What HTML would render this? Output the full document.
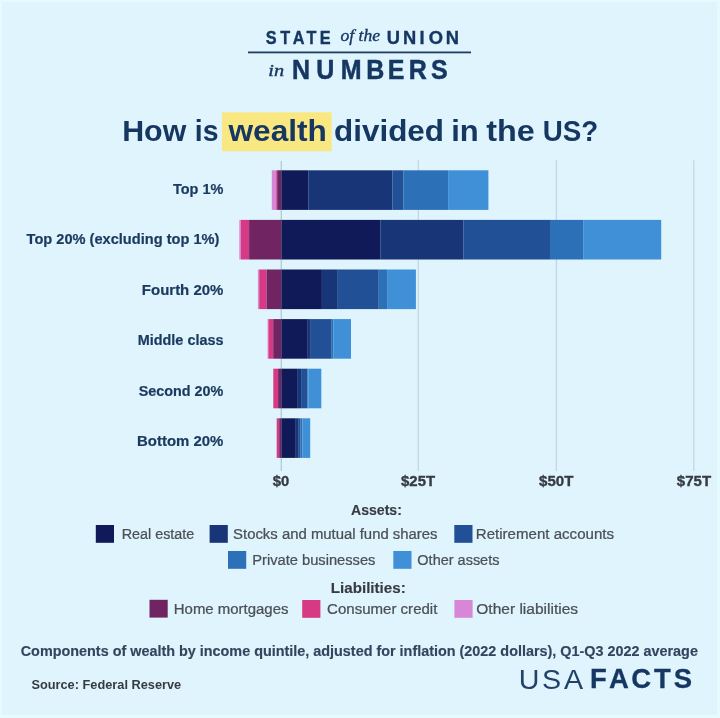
<!DOCTYPE html>
<html><head><meta charset="utf-8"><title>How is wealth divided in the US?</title>
<style>html,body{margin:0;padding:0;background:#dff4fd;} svg{display:block;filter:blur(0.3px)}</style></head>
<body>
<svg width="720" height="718" viewBox="0 0 720 718">
<rect x="0" y="0" width="720" height="718" fill="#dff4fd"/>
<rect x="0" y="0" width="720" height="2" fill="#e4fbff"/><rect x="0" y="0" width="2" height="718" fill="#e4fbff"/><rect x="717" y="0" width="3" height="718" fill="#e4fbff"/><rect x="0" y="715" width="720" height="3" fill="#e4fbff"/>
<rect x="248" y="51.5" width="223" height="1.8" fill="#1e3d63"/>
<rect x="222" y="112.3" width="109.7" height="38.9" fill="#f9e882"/>
<rect x="280.65" y="161" width="1.3" height="310" fill="#b3cad5"/><rect x="417.65" y="160.3" width="1.3" height="310.7" fill="#c0d8e3"/><rect x="555.75" y="160.3" width="1.3" height="310.7" fill="#c0d8e3"/><rect x="693.15" y="160.3" width="1.3" height="310.7" fill="#c0d8e3"/>
<rect x="271.80" y="170.30" width="4.40" height="39.60" fill="#d887d6"/><rect x="276.20" y="170.30" width="1.00" height="39.60" fill="#d63a84"/><rect x="277.20" y="170.30" width="4.20" height="39.60" fill="#702461"/><rect x="281.40" y="170.30" width="26.90" height="39.60" fill="#111a58"/><rect x="308.30" y="170.30" width="84.20" height="39.60" fill="#183578"/><rect x="392.50" y="170.30" width="10.80" height="39.60" fill="#215096"/><rect x="403.30" y="170.30" width="44.80" height="39.60" fill="#2c70b8"/><rect x="448.10" y="170.30" width="40.30" height="39.60" fill="#3f90d7"/><rect x="239.30" y="219.90" width="1.70" height="39.60" fill="#d887d6"/><rect x="241.00" y="219.90" width="8.10" height="39.60" fill="#d63a84"/><rect x="249.10" y="219.90" width="32.40" height="39.60" fill="#702461"/><rect x="281.50" y="219.90" width="98.80" height="39.60" fill="#111a58"/><rect x="380.30" y="219.90" width="83.30" height="39.60" fill="#183578"/><rect x="463.60" y="219.90" width="86.40" height="39.60" fill="#215096"/><rect x="550.00" y="219.90" width="33.60" height="39.60" fill="#2c70b8"/><rect x="583.60" y="219.90" width="77.60" height="39.60" fill="#3f90d7"/><rect x="257.90" y="269.50" width="1.30" height="39.60" fill="#d887d6"/><rect x="259.20" y="269.50" width="7.40" height="39.60" fill="#d63a84"/><rect x="266.60" y="269.50" width="14.80" height="39.60" fill="#702461"/><rect x="281.40" y="269.50" width="40.50" height="39.60" fill="#111a58"/><rect x="321.90" y="269.50" width="15.90" height="39.60" fill="#183578"/><rect x="337.80" y="269.50" width="40.95" height="39.60" fill="#215096"/><rect x="378.75" y="269.50" width="8.35" height="39.60" fill="#2c70b8"/><rect x="387.10" y="269.50" width="28.80" height="39.60" fill="#3f90d7"/><rect x="267.60" y="319.10" width="0.80" height="39.60" fill="#d887d6"/><rect x="268.40" y="319.10" width="4.80" height="39.60" fill="#d63a84"/><rect x="273.20" y="319.10" width="8.20" height="39.60" fill="#702461"/><rect x="281.40" y="319.10" width="25.70" height="39.60" fill="#111a58"/><rect x="307.10" y="319.10" width="3.70" height="39.60" fill="#183578"/><rect x="310.80" y="319.10" width="20.90" height="39.60" fill="#215096"/><rect x="331.70" y="319.10" width="1.60" height="39.60" fill="#2c70b8"/><rect x="333.30" y="319.10" width="17.70" height="39.60" fill="#3f90d7"/><rect x="273.30" y="368.70" width="4.80" height="39.60" fill="#d63a84"/><rect x="278.10" y="368.70" width="3.30" height="39.60" fill="#702461"/><rect x="281.40" y="368.70" width="16.40" height="39.60" fill="#111a58"/><rect x="297.80" y="368.70" width="3.30" height="39.60" fill="#183578"/><rect x="301.10" y="368.70" width="6.30" height="39.60" fill="#215096"/><rect x="307.40" y="368.70" width="0.90" height="39.60" fill="#2c70b8"/><rect x="308.30" y="368.70" width="13.00" height="39.60" fill="#3f90d7"/><rect x="276.70" y="418.30" width="2.50" height="39.60" fill="#d63a84"/><rect x="279.20" y="418.30" width="2.30" height="39.60" fill="#702461"/><rect x="281.50" y="418.30" width="14.30" height="39.60" fill="#111a58"/><rect x="295.80" y="418.30" width="2.95" height="39.60" fill="#183578"/><rect x="298.75" y="418.30" width="1.85" height="39.60" fill="#215096"/><rect x="300.60" y="418.30" width="1.90" height="39.60" fill="#2c70b8"/><rect x="302.50" y="418.30" width="7.70" height="39.60" fill="#3f90d7"/>
<rect x="95.80" y="525.00" width="18.2" height="17.8" fill="#111a58"/><rect x="209.60" y="525.00" width="18.2" height="17.8" fill="#183578"/><rect x="454.30" y="525.00" width="18.2" height="17.8" fill="#215096"/><rect x="228.00" y="551.00" width="18.2" height="17.8" fill="#2c70b8"/><rect x="393.30" y="551.00" width="18.2" height="17.8" fill="#3f90d7"/><rect x="149.50" y="599.80" width="18.2" height="17.8" fill="#702461"/><rect x="302.20" y="600.00" width="18.2" height="17.8" fill="#d63a84"/><rect x="454.40" y="600.00" width="18.2" height="17.8" fill="#d887d6"/>
<text font-family="Liberation Sans" font-size="19.00" font-weight="bold" stroke="#163761" stroke-width="0.35" fill="#163761" transform="translate(0 43.80) scale(0.8570 1)" x="310.00 326.89 341.47 357.52 373.21" y="0">STATE</text>
<text font-family="Liberation Serif" font-size="16.40" font-style="italic" stroke="#163761" stroke-width="0.35" fill="#163761" transform="translate(340.46 40.70) scale(1.0740 1)">of the</text>
<text font-family="Liberation Sans" font-size="19.00" font-weight="bold" stroke="#163761" stroke-width="0.35" fill="#163761" transform="translate(0 43.80) scale(0.9647 1)" x="400.94 417.83 434.92 444.52 461.94" y="0">UNION</text>
<text font-family="Liberation Serif" font-size="16.50" font-style="italic" stroke="#163761" stroke-width="0.35" fill="#163761" transform="translate(268.28 75.50) scale(1.2337 1)">in</text>
<text font-family="Liberation Sans" font-size="28.14" font-weight="bold" stroke="#163761" stroke-width="0.5" fill="#163761" transform="translate(0 78.90) scale(0.8881 1)" x="328.90 356.08 383.58 412.43 436.73 460.30 485.17" y="0">NUMBERS</text>
<text font-family="Liberation Sans" font-size="29.86" font-weight="bold" fill="#163761" transform="translate(122.23 140.90) scale(1.0156 1)">How</text>
<text font-family="Liberation Sans" font-size="29.86" font-weight="bold" fill="#163761" transform="translate(194.86 140.90) scale(0.9506 1)">is</text>
<text font-family="Liberation Sans" font-size="29.86" font-weight="bold" fill="#163761" transform="translate(228.46 140.90) scale(1.0598 1)">wealth</text>
<text font-family="Liberation Sans" font-size="29.86" font-weight="bold" fill="#163761" transform="translate(334.04 140.90) scale(1.0527 1)">divided</text>
<text font-family="Liberation Sans" font-size="29.86" font-weight="bold" fill="#163761" transform="translate(451.19 140.90) scale(1.0362 1)">in</text>
<text font-family="Liberation Sans" font-size="29.86" font-weight="bold" fill="#163761" transform="translate(486.18 140.90) scale(1.0848 1)">the</text>
<text font-family="Liberation Sans" font-size="29.86" font-weight="bold" fill="#163761" transform="translate(542.73 140.90) scale(0.9297 1)">US?</text>
<text font-family="Liberation Sans" font-size="14.00" font-weight="bold" stroke="#1b3a5f" stroke-width="0.2" fill="#1b3a5f" transform="translate(172.95 193.50) scale(1.0360 1)">Top 1%</text>
<text font-family="Liberation Sans" font-size="14.00" font-weight="bold" stroke="#1b3a5f" stroke-width="0.2" fill="#1b3a5f" transform="translate(26.55 244.10) scale(1.0443 1)">Top 20% (excluding top 1%)</text>
<text font-family="Liberation Sans" font-size="14.00" font-weight="bold" stroke="#1b3a5f" stroke-width="0.2" fill="#1b3a5f" transform="translate(141.83 294.80) scale(1.0710 1)">Fourth 20%</text>
<text font-family="Liberation Sans" font-size="14.00" font-weight="bold" stroke="#1b3a5f" stroke-width="0.2" fill="#1b3a5f" transform="translate(137.66 345.30) scale(1.0325 1)">Middle class</text>
<text font-family="Liberation Sans" font-size="14.00" font-weight="bold" stroke="#1b3a5f" stroke-width="0.2" fill="#1b3a5f" transform="translate(138.64 395.60) scale(1.0283 1)">Second 20%</text>
<text font-family="Liberation Sans" font-size="14.00" font-weight="bold" stroke="#1b3a5f" stroke-width="0.2" fill="#1b3a5f" transform="translate(137.03 445.70) scale(1.0684 1)">Bottom 20%</text>
<text font-family="Liberation Sans" font-size="15.00" font-weight="bold" stroke="#363b41" stroke-width="0.35" fill="#363b41" transform="translate(272.75 486.20) scale(0.9880 1)">$0</text>
<text font-family="Liberation Sans" font-size="15.00" font-weight="bold" stroke="#363b41" stroke-width="0.35" fill="#363b41" transform="translate(401.05 486.20) scale(0.9955 1)">$25T</text>
<text font-family="Liberation Sans" font-size="15.00" font-weight="bold" stroke="#363b41" stroke-width="0.35" fill="#363b41" transform="translate(539.05 486.20) scale(1.0044 1)">$50T</text>
<text font-family="Liberation Sans" font-size="15.00" font-weight="bold" stroke="#363b41" stroke-width="0.35" fill="#363b41" transform="translate(676.85 486.20) scale(1.0014 1)">$75T</text>
<text font-family="Liberation Sans" font-size="15.14" font-weight="bold" stroke="#363b41" stroke-width="0.15" fill="#363b41" transform="translate(351.02 515.00) scale(0.9302 1)">Assets:</text>
<text font-family="Liberation Sans" font-size="15.43" font-weight="bold" stroke="#363b41" stroke-width="0.15" fill="#363b41" transform="translate(330.81 592.60) scale(0.9829 1)">Liabilities:</text>
<text font-family="Liberation Sans" font-size="15.00" stroke="#4b5056" stroke-width="0.25" fill="#4b5056" transform="translate(121.65 539.40) scale(0.9573 1)">Real estate</text>
<text font-family="Liberation Sans" font-size="15.00" stroke="#4b5056" stroke-width="0.25" fill="#4b5056" transform="translate(233.08 539.40) scale(0.9937 1)">Stocks and mutual fund shares</text>
<text font-family="Liberation Sans" font-size="15.00" stroke="#4b5056" stroke-width="0.25" fill="#4b5056" transform="translate(475.79 539.40) scale(1.0056 1)">Retirement accounts</text>
<text font-family="Liberation Sans" font-size="15.00" stroke="#4b5056" stroke-width="0.25" fill="#4b5056" transform="translate(252.33 564.80) scale(0.9785 1)">Private businesses</text>
<text font-family="Liberation Sans" font-size="15.00" stroke="#4b5056" stroke-width="0.25" fill="#4b5056" transform="translate(417.35 564.80) scale(0.9662 1)">Other assets</text>
<text font-family="Liberation Sans" font-size="15.00" stroke="#4b5056" stroke-width="0.25" fill="#4b5056" transform="translate(173.80 613.50) scale(0.9971 1)">Home mortgages</text>
<text font-family="Liberation Sans" font-size="15.00" stroke="#4b5056" stroke-width="0.25" fill="#4b5056" transform="translate(327.05 613.50) scale(1.0032 1)">Consumer credit</text>
<text font-family="Liberation Sans" font-size="15.00" stroke="#4b5056" stroke-width="0.25" fill="#4b5056" transform="translate(476.30 613.50) scale(1.0353 1)">Other liabilities</text>
<text font-family="Liberation Sans" font-size="15.00" font-weight="bold" stroke="#31465e" stroke-width="0.15" fill="#31465e" transform="translate(20.72 655.80) scale(0.9604 1)">Components of wealth by income quintile, adjusted for inflation (2022 dollars), Q1-Q3 2022 average</text>
<text font-family="Liberation Sans" font-size="13.57" font-weight="bold" fill="#363b41" transform="translate(31.38 688.70) scale(0.9425 1)">Source: Federal Reserve</text>
<text font-family="Liberation Sans" font-size="28.29" fill="#23426a" transform="translate(0 688.60) scale(1.0120 1)" x="512.72 535.61 557.30" y="0">USA</text>
<text font-family="Liberation Sans" font-size="28.29" font-weight="bold" stroke="#163761" stroke-width="0.3" fill="#163761" transform="translate(0 688.40) scale(0.9706 1)" x="607.82 627.50 650.31 673.85 694.20" y="0">FACTS</text>
</svg>
</body></html>
